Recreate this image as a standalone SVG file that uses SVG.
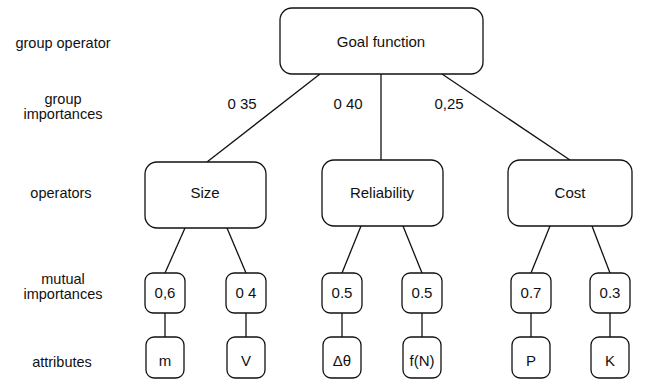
<svg xmlns="http://www.w3.org/2000/svg" width="645" height="381" viewBox="0 0 645 381">
<style>
.box{fill:#fff;stroke:#111;stroke-width:1.3}
.ln{stroke:#111;stroke-width:1.3;fill:none}
text{font-family:"Liberation Sans",Arial,sans-serif;font-size:15px;fill:#111;text-anchor:middle}
.lab{font-size:14.5px}
</style>
<rect width="645" height="381" fill="#fff"/>
<g id="row-labels">
<text class="lab" x="63" y="48">group operator</text>
<text class="lab" x="63" y="104">group</text>
<text class="lab" x="63" y="119">importances</text>
<text class="lab" x="61" y="198">operators</text>
<text class="lab" x="63" y="284">mutual</text>
<text class="lab" x="63" y="299">importances</text>
<text class="lab" x="62" y="367">attributes</text>
</g>
<g id="connectors">
<line class="ln" x1="320" y1="74" x2="207" y2="162"/>
<line class="ln" x1="381" y1="74" x2="381" y2="160"/>
<line class="ln" x1="442" y1="74" x2="570" y2="160"/>
<line class="ln" x1="185" y1="228" x2="165" y2="273"/>
<line class="ln" x1="227" y1="228" x2="246" y2="273"/>
<line class="ln" x1="361" y1="226" x2="342" y2="273"/>
<line class="ln" x1="403" y1="226" x2="422" y2="273"/>
<line class="ln" x1="550" y1="226" x2="531" y2="273"/>
<line class="ln" x1="592" y1="226" x2="610" y2="273"/>
<line class="ln" x1="165" y1="313" x2="165" y2="337"/>
<line class="ln" x1="246" y1="313" x2="246" y2="337"/>
<line class="ln" x1="342" y1="313" x2="342" y2="337"/>
<line class="ln" x1="422" y1="313" x2="422" y2="337"/>
<line class="ln" x1="531" y1="313" x2="531" y2="337"/>
<line class="ln" x1="610" y1="313" x2="610" y2="337"/>
</g>
<g id="weights">
<text x="242" y="109">0 35</text>
<text x="348" y="109">0 40</text>
<text x="449" y="109">0,25</text>
</g>
<g id="goal"><rect class="box" x="280" y="8" width="203" height="66" rx="12"/><text x="381" y="47">Goal function</text></g>
<g id="size"><rect class="box" x="145" y="162" width="121" height="66" rx="12"/><text x="205" y="198">Size</text></g>
<g id="reliability"><rect class="box" x="322" y="160" width="121" height="66" rx="12"/><text x="382" y="198">Reliability</text></g>
<g id="cost"><rect class="box" x="508" y="160" width="124" height="66" rx="12"/><text x="570" y="198">Cost</text></g>
<g id="w-m"><rect class="box" x="145" y="273" width="40" height="40" rx="8"/><text x="165" y="298">0,6</text></g>
<g id="w-v"><rect class="box" x="226" y="273" width="40" height="40" rx="8"/><text x="246" y="298">0 4</text></g>
<g id="w-dt"><rect class="box" x="322" y="273" width="40" height="40" rx="8"/><text x="342" y="298">0.5</text></g>
<g id="w-fn"><rect class="box" x="402" y="273" width="40" height="40" rx="8"/><text x="422" y="298">0.5</text></g>
<g id="w-p"><rect class="box" x="511" y="273" width="40" height="40" rx="8"/><text x="531" y="298">0.7</text></g>
<g id="w-k"><rect class="box" x="590" y="273" width="40" height="40" rx="8"/><text x="610" y="298">0.3</text></g>
<g id="a-m"><rect class="box" x="146" y="337" width="38" height="41" rx="8"/><text x="165" y="366">m</text></g>
<g id="a-v"><rect class="box" x="227" y="337" width="38" height="41" rx="8"/><text x="246" y="366">V</text></g>
<g id="a-dt"><rect class="box" x="323" y="337" width="38" height="41" rx="8"/><text x="342" y="366">Δθ</text></g>
<g id="a-fn"><rect class="box" x="403" y="337" width="38" height="41" rx="8"/><text x="422" y="366">f(N)</text></g>
<g id="a-p"><rect class="box" x="512" y="337" width="38" height="41" rx="8"/><text x="531" y="366">P</text></g>
<g id="a-k"><rect class="box" x="591" y="337" width="38" height="41" rx="8"/><text x="610" y="366">K</text></g>
</svg>
